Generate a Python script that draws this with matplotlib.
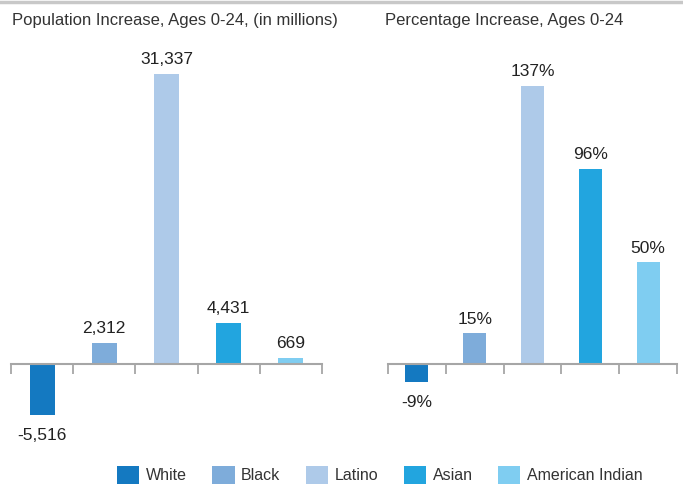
import matplotlib.pyplot as plt
from matplotlib.patches import Patch
from matplotlib.lines import Line2D

plt.rcParams['font.family'] = ['Liberation Sans', 'DejaVu Sans']

groups = ['White', 'Black', 'Latino', 'Asian', 'American Indian']
pop_increase = [-5516, 2312, 31337, 4431, 669]
pct_increase = [-9, 15, 137, 96, 50]
colors = ['#1479C1', '#7EACDA', '#AECAE9', '#22A5DF', '#7FCDF1']

fig = plt.figure(figsize=(6.83, 4.84), dpi=100)

# thin gray rule at top
fig.add_artist(Line2D([0, 1], [0.996, 0.996], color='#C8C8C8', lw=2.5,
                      transform=fig.transFigure))


def panel(rect, values, ylim, fmt, title, title_x):
    ax = fig.add_axes(rect)
    x = range(len(values))
    ax.bar(x, values, width=0.4, color=colors)
    ax.set_xlim(-0.5, len(values) - 0.5)
    ax.set_ylim(*ylim)
    for s in ['top', 'right', 'left']:
        ax.spines[s].set_visible(False)
    ax.spines['bottom'].set_position(('data', 0))
    ax.spines['bottom'].set_color('#A6A6A6')
    ax.spines['bottom'].set_linewidth(1.5)
    ax.set_xticks([i - 0.5 for i in range(len(values) + 1)])
    ax.set_xticklabels([])
    ax.tick_params(axis='x', direction='out', length=7, width=1.3,
                   color='#A6A6A6')
    ax.set_yticks([])
    for i, v in enumerate(values):
        off = 5 if v >= 0 else -9
        va = 'bottom' if v >= 0 else 'top'
        ax.annotate(fmt(v), (i, v), xytext=(0, off), textcoords='offset points',
                    ha='center', va=va, fontsize=12.5, color='#222222')
    fig.text(title_x, 0.958, title, fontsize=12, color='#333333',
             ha='left', va='center')
    return ax


panel([11 / 683, 44 / 484, 311 / 683, 390 / 484], pop_increase,
      (-8213, 33931), lambda v: '{:,}'.format(v),
      'Population Increase, Ages 0-24, (in millions)', 12 / 683)
panel([388 / 683, 44 / 484, 289 / 683, 390 / 484], pct_increase,
      (-37.5, 154.7), lambda v: '{}%'.format(v),
      'Percentage Increase, Ages 0-24', 385 / 683)

handles = [Patch(facecolor=c, edgecolor='none') for c in colors]
fig.legend(handles, groups, loc='lower center', bbox_to_anchor=(0.556, -0.03),
           ncol=5, frameon=False, fontsize=11.5, handlelength=1.4,
           handleheight=1.4, handletextpad=0.4, columnspacing=1.6,
           labelcolor='#333333')

fig.savefig('out.png', dpi=100)
